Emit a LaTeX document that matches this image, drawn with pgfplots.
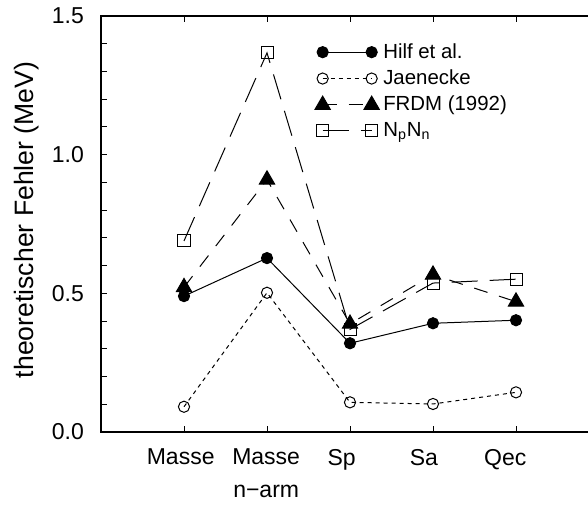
\documentclass[border=0pt]{standalone}
\usepackage{fontspec}
\setmainfont{Liberation Sans}
\usepackage{pgfplots}
\pgfplotsset{compat=1.18}
\begin{document}
\begin{tikzpicture}
\begin{axis}[
  scale only axis,
  width=249pt, height=208pt,
  xmin=0, xmax=6, ymin=0, ymax=1.5,
  axis line style={line width=0.6pt},
  xtick={1,2,3,4,5},
  xticklabels={},
  extra x ticks={0.96,1.99,2.9,3.89,4.87},
  extra x tick labels={Masse,Masse\\n−arm,Sp,Sa,\raisebox{1.2pt}{Qec}},
  extra x tick style={major tick length=0pt, tick style={draw=none}, xticklabel style={align=center, font=\fontsize{11.5}{16.5}\selectfont, yshift=-5pt}},
  ytick={0,0.5,1,1.5},
  minor y tick num=4,
  tick align=inside,
  major tick length=3pt, minor tick length=3pt,
  tick style={line width=0.5pt, black},
  ytick pos=left,
  yticklabel style={font=\fontsize{11.5}{13}\selectfont, xshift=-5pt},
  /pgf/number format/assume math mode=true,
  yticklabel={\pgfmathprintnumber[fixed, fixed zerofill, precision=1]{\tick}},
  ylabel={theoretischer Fehler (MeV)},
  every axis y label/.style={at={(axis description cs:-0.11,0.51)}, rotate=90, anchor=south, font=\fontsize{13.3}{15}\selectfont},
  legend style={draw=none, fill=none, at={(axis description cs:0.429,0.945)}, anchor=north west, inner sep=0pt, row sep=0.3pt, font=\fontsize{10.2}{12}\selectfont, cells={anchor=west}},
  legend image code/.code={\draw[#1] plot coordinates {(0pt,0pt) (24.5pt,0pt)};},
]
\coordinate (bl) at (rel axis cs:0,0);
\addplot[black, line width=0.5pt, mark=*, mark size=2.8pt, mark options={solid, fill=black}]
  coordinates {(1,0.49) (2,0.627) (3,0.32) (4,0.392) (5,0.403)};
\addlegendentry{Hilf et al.}
\addplot[black, line width=0.5pt, dash pattern=on 2pt off 2pt, mark=o, mark size=2.8pt, mark options={solid, fill=none}]
  coordinates {(1,0.091) (2,0.502) (3,0.107) (4,0.101) (5,0.143)};
\addlegendentry{Jaenecke}
\addplot[black, line width=0.5pt, dash pattern=on 7pt off 6pt, mark=triangle*, mark size=4.4pt, mark options={solid, fill=black}]
  coordinates {(1,0.522) (2,0.91) (3,0.39) (4,0.567) (5,0.47)};
\addlegendentry{FRDM (1992)}
\addplot[black, line width=0.5pt, dash pattern=on 13pt off 6pt, mark=square, mark size=3pt, mark options={solid, fill=none}]
  coordinates {(1,0.689) (2,1.367) (3,0.37) (4,0.537) (5,0.551)};
\addlegendentry{N\textsubscript{p}N\textsubscript{n}}
\end{axis}
\pgfresetboundingbox
\path[use as bounding box] ([shift={(-50.5pt,-37.5pt)}]bl) rectangle ([shift={(243.5pt,216pt)}]bl);
\end{tikzpicture}
\end{document}
